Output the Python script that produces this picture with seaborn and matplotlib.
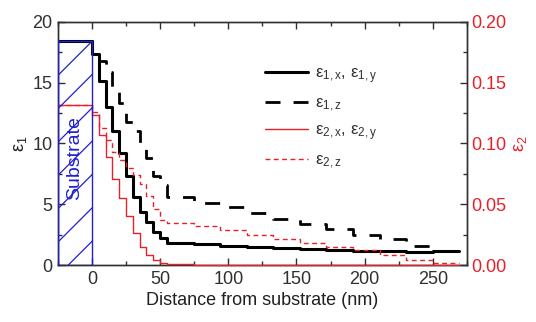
import numpy as np
import pandas as pd
import matplotlib
matplotlib.use("Agg")
import matplotlib.pyplot as plt
from matplotlib.patches import Rectangle
from matplotlib.ticker import MultipleLocator
import seaborn as sns

# layer edges (nm): substrate, eleven thin layers, eleven thick layers
edges = [-25, 0, 5, 10, 15, 20, 25, 30, 35, 40, 45, 50, 55,
         74.5, 94, 113.5, 133, 152.5, 172, 191.5, 211, 230.5, 250, 269.5]

eps1_xy = [18.4, 17.4, 15.1, 13.0, 11.0, 9.2, 7.3, 5.6, 4.4, 3.5, 2.7, 2.2,
           1.85, 1.72, 1.55, 1.45, 1.37, 1.28, 1.2, 1.15, 1.12, 1.1, 1.15]
eps1_z = [18.4, 17.6, 16.8, 15.9, 14.3, 13.3, 11.8, 11.0, 9.7, 8.8, 7.3, 6.6,
          5.6, 5.1, 4.8, 4.25, 3.76, 3.37, 2.93, 2.47, 2.1, 1.6, 1.15]
eps2_xy = [0.132, 0.1235, 0.107, 0.089, 0.071, 0.055, 0.040, 0.026, 0.015,
           0.0082, 0.0041, 0.0014, 0.0006, 0.0004, 0.0003, 0.0002, 0.0002,
           0.0001, 0.0001, 0.0001, 0.0001, 0.0001, 0.0001]
eps2_z = [0.132, 0.126, 0.113, 0.103, 0.093, 0.086, 0.080, 0.074, 0.067,
          0.057, 0.046, 0.037, 0.0345, 0.032, 0.0285, 0.025, 0.021, 0.0182,
          0.0145, 0.012, 0.0082, 0.0044, 0.0014]

labels = ["ε$_{1,x}$, ε$_{1,y}$", "ε$_{1,z}$", "ε$_{2,x}$, ε$_{2,y}$", "ε$_{2,z}$"]

def stepframe(vals):
    return pd.DataFrame({"x": edges, "y": list(vals) + [vals[-1]]})

sns.set_theme(style="ticks")
plt.rcParams["font.family"] = ["Liberation Sans", "DejaVu Sans"]
plt.rcParams["mathtext.default"] = "regular"
plt.rcParams["mathtext.fontset"] = "custom"
plt.rcParams["mathtext.rm"] = "Liberation Sans"
plt.rcParams["hatch.color"] = "#2020d0"
plt.rcParams["hatch.linewidth"] = 0.9

RED = "#e8202a"
DARK = "#303030"

fig = plt.figure(figsize=(5.36, 3.22), dpi=100)
ax = fig.add_axes([0.108, 0.177, 0.763, 0.755])
ax2 = ax.twinx()

sns.lineplot(data=stepframe(eps1_xy), x="x", y="y", ax=ax, color="black",
             lw=2.2, drawstyle="steps-post", estimator=None, label=labels[0], legend=False)
sns.lineplot(data=stepframe(eps1_z), x="x", y="y", ax=ax, color="black",
             lw=2.0, drawstyle="steps-post", estimator=None, label=labels[1], legend=False)
ax.lines[1].set_linestyle((0, (5.4, 4.7)))

sns.lineplot(data=stepframe(eps2_xy), x="x", y="y", ax=ax2, color=RED,
             lw=1.0, drawstyle="steps-post", estimator=None, label=labels[2], legend=False)
sns.lineplot(data=stepframe(eps2_z), x="x", y="y", ax=ax2, color=RED,
             lw=1.0, drawstyle="steps-post", estimator=None, label=labels[3], legend=False)
ax2.lines[1].set_linestyle((0, (3.5, 2.5)))
for ln in ax2.lines[:2]:
    ln.set_clip_on(False)
    ln.set_zorder(4)

# substrate
rect = Rectangle((-25, 0), 25, eps1_xy[0], facecolor="none", edgecolor="#2020d0",
                 hatch="/", lw=1.0, zorder=5)
ax2.add_patch(rect)
rect.set_transform(ax.transData)
ax.text(-12.5, 8.8, "Substrate", rotation=90, color="#2020d0", fontsize=14,
        ha="center", va="center", zorder=6)

ax.set_xlim(-25, 275)
ax.set_ylim(0, 20)
ax2.set_ylim(0, 0.2)

ax.xaxis.set_major_locator(MultipleLocator(50))
ax.xaxis.set_minor_locator(MultipleLocator(25))
ax.yaxis.set_major_locator(MultipleLocator(5))
ax.yaxis.set_minor_locator(MultipleLocator(2.5))
ax2.yaxis.set_major_locator(MultipleLocator(0.05))
ax2.yaxis.set_minor_locator(MultipleLocator(0.025))
ax2.yaxis.set_major_formatter(matplotlib.ticker.FormatStrFormatter("%.2f"))

ax.tick_params(axis="both", which="both", direction="in", top=True, right=False,
               labelsize=13, colors=DARK, pad=4)
ax.tick_params(which="major", length=5, width=1)
ax.tick_params(which="minor", length=3, width=1)
ax2.tick_params(axis="y", which="both", direction="in", labelsize=13,
                labelcolor=RED, color=DARK, pad=3)
ax2.tick_params(which="major", length=5, width=1)
ax2.tick_params(which="minor", length=3, width=1)

for a in (ax, ax2):
    for s in a.spines.values():
        s.set_color(DARK)
        s.set_linewidth(1.0)

ax.set_xlabel("Distance from substrate (nm)", fontsize=13, color="#202020", labelpad=3)
ax.set_ylabel("ε$_1$", fontsize=13, color="#202020", labelpad=2)
ax2.set_ylabel("ε$_2$", fontsize=13, color=RED, labelpad=4)

handles = ax.lines[:2] + ax2.lines[:2]
leg = ax2.legend(handles, labels, loc="upper left", bbox_to_anchor=(0.49, 0.845),
                 frameon=False, fontsize=12, handlelength=2.6, labelspacing=0.57,
                 handletextpad=0.4, borderaxespad=0)
for t in leg.get_texts():
    t.set_color(DARK)

fig.savefig("out.png", dpi=100)
